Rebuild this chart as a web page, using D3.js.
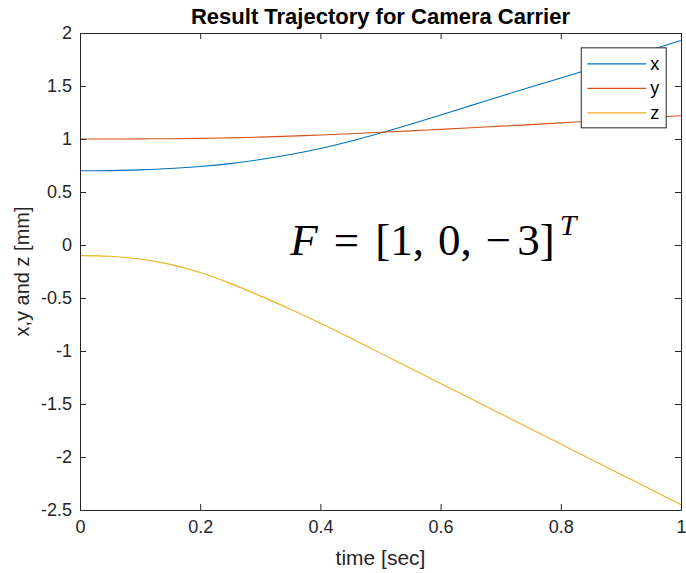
<!DOCTYPE html>
<html>
<head>
<meta charset="utf-8">
<script src="https://cdn.jsdelivr.net/npm/d3@7"></script>
<style>
  body { margin: 0; background: #fff; }
</style>
</head>
<body>
<svg id="chart" width="686" height="573" font-family="'Liberation Sans', Arial, sans-serif"></svg>
<script>
// time samples [sec]
const time = [0, 0.05, 0.1, 0.15, 0.2, 0.25, 0.3, 0.35, 0.4, 0.45, 0.5,
  0.55, 0.6, 0.65, 0.7, 0.75, 0.8, 0.85, 0.9, 0.95, 1.0];
// positions [mm]
const xPos = [0.700, 0.702, 0.709, 0.721, 0.740, 0.768, 0.806, 0.853, 0.910, 0.978, 1.056,
  1.140, 1.227, 1.315, 1.403, 1.490, 1.576, 1.663, 1.750, 1.840, 1.930];
const yPos = [1.000, 1.000, 1.001, 1.003, 1.006, 1.011, 1.018, 1.027, 1.038, 1.050, 1.063,
  1.077, 1.091, 1.106, 1.121, 1.136, 1.152, 1.168, 1.185, 1.202, 1.220];
const zPos = [-0.100, -0.106, -0.132, -0.183, -0.260, -0.362, -0.480, -0.606, -0.738, -0.877, -1.020,
  -1.163, -1.306, -1.449, -1.592, -1.735, -1.878, -2.021, -2.164, -2.307, -2.450];
const seriesNames = ["x", "y", "z"];
const xTicks = [0, 0.2, 0.4, 0.6, 0.8, 1];
const yTicks = [-2.5, -2, -1.5, -1, -0.5, 0, 0.5, 1, 1.5, 2];

const colors = ["#0072BD", "#D95319", "#EDB120"];
const axesColor = "#262626";
const margin = { top: 33, right: 5, bottom: 63, left: 80 };
const width = 686 - margin.left - margin.right;
const height = 573 - margin.top - margin.bottom;

const svg = d3.select("#chart");
const g = svg.append("g").attr("transform", `translate(${margin.left},${margin.top})`);

const xScale = d3.scaleLinear([0, 1], [0, width]);
const yScale = d3.scaleLinear([-2.5, 2], [height, 0]);

const series = [xPos, yPos, zPos].map((vals, i) => ({
  name: seriesNames[i],
  color: colors[i],
  data: time.map((t, j) => ({ t: t, v: vals[j] }))
}));

const line = d3.line()
  .curve(d3.curveCatmullRom.alpha(0.5))
  .x(d => xScale(d.t))
  .y(d => yScale(d.v));

// curves
series.forEach(s => {
  g.append("path")
    .datum(s.data)
    .attr("fill", "none")
    .attr("stroke", s.color)
    .attr("stroke-width", 1.1)
    .attr("d", line);
});

// axes, MATLAB style: box on, ticks pointing inwards
const fmt = d => String(d);
const axisBottom = d3.axisBottom(xScale).tickValues(xTicks).tickFormat(fmt).tickSizeInner(-6).tickSizeOuter(0).tickPadding(10);
const axisTop = d3.axisTop(xScale).tickValues(xTicks).tickFormat("").tickSizeInner(-6).tickSizeOuter(0);
const axisLeft = d3.axisLeft(yScale).tickValues(yTicks).tickFormat(fmt).tickSizeInner(-6).tickSizeOuter(0).tickPadding(8);
const axisRight = d3.axisRight(yScale).tickValues(yTicks).tickFormat("").tickSizeInner(-6).tickSizeOuter(0);

const gx = g.append("g").attr("transform", `translate(0,${height})`).call(axisBottom);
const gxTop = g.append("g").call(axisTop);
const gy = g.append("g").call(axisLeft);
const gyRight = g.append("g").attr("transform", `translate(${width},0)`).call(axisRight);

[gx, gxTop, gy, gyRight].forEach(a => {
  a.select(".domain").attr("stroke", axesColor).attr("stroke-width", 1);
  a.selectAll(".tick line").attr("stroke", axesColor);
  a.selectAll("text")
    .attr("font-family", "'Liberation Sans', Arial, sans-serif")
    .attr("font-size", 18)
    .attr("fill", axesColor);
});

// title and axis labels
svg.append("text")
  .attr("x", margin.left + width / 2)
  .attr("y", 24)
  .attr("text-anchor", "middle")
  .attr("font-size", 22)
  .attr("font-weight", "bold")
  .attr("fill", "#000")
  .text("Result Trajectory for Camera Carrier");

svg.append("text")
  .attr("x", margin.left + width / 2)
  .attr("y", 565)
  .attr("text-anchor", "middle")
  .attr("font-size", 21)
  .attr("fill", axesColor)
  .text("time [sec]");

svg.append("text")
  .attr("transform", `translate(29,${margin.top + height / 2}) rotate(-90)`)
  .attr("text-anchor", "middle")
  .attr("font-size", 20)
  .attr("fill", axesColor)
  .text("x,y and z [mm]");

// equation annotation
const eq = g.append("text")
  .attr("x", xScale(0.35))
  .attr("y", yScale(-0.09))
  .attr("font-family", "'Liberation Serif', 'DejaVu Serif', serif")
  .attr("font-size", 45)
  .attr("fill", "#000");
eq.append("tspan").attr("font-style", "italic").text("F");
eq.append("tspan").attr("dx", 16).text("=");
eq.append("tspan").attr("dx", 16).text("[1,");
eq.append("tspan").attr("dx", 14).text("0,");
eq.append("tspan").attr("dx", 14).text("\u2212");
eq.append("tspan").attr("dx", 6).text("3]");
eq.append("tspan").attr("font-style", "italic").attr("font-size", 30).attr("dx", 5).attr("dy", -20).text("T");

// legend
const legend = g.append("g").attr("transform", `translate(${xScale(0.834)},${yScale(1.86)})`);
legend.append("rect")
  .attr("width", 85)
  .attr("height", 80)
  .attr("fill", "#fff")
  .attr("stroke", axesColor)
  .attr("stroke-width", 1);
series.forEach((s, i) => {
  const row = legend.append("g").attr("transform", `translate(0,${16 + i * 24.5})`);
  row.append("line")
    .attr("x1", 6).attr("x2", 65)
    .attr("stroke", s.color)
    .attr("stroke-width", 1.1);
  row.append("text")
    .attr("x", 69)
    .attr("y", 6)
    .attr("font-size", 18)
    .attr("fill", "#000")
    .text(s.name);
});
</script>
</body>
</html>
